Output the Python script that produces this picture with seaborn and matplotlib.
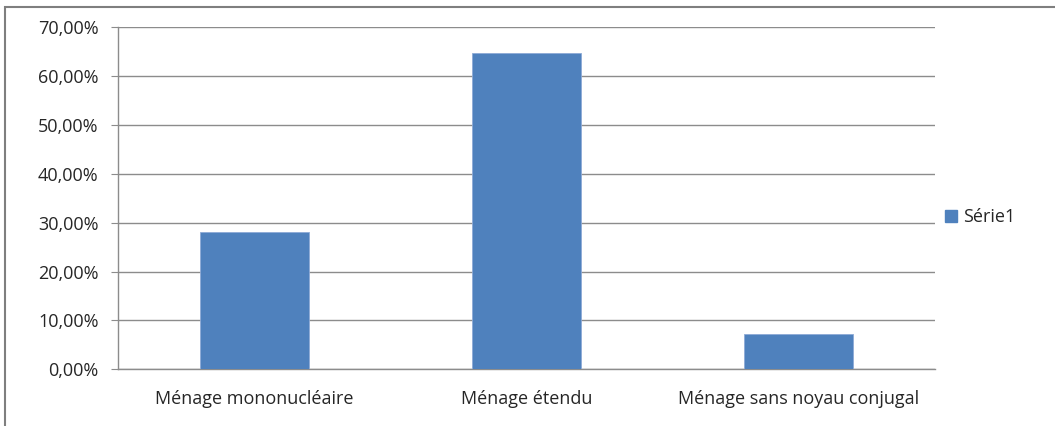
import matplotlib
matplotlib.use("Agg")
import matplotlib.pyplot as plt
import matplotlib.patches as mpatches
from matplotlib.ticker import FuncFormatter, FixedLocator
import pandas as pd
import seaborn as sns

# Données du graphique
categories = ["Ménage mononucléaire", "Ménage étendu", "Ménage sans noyau conjugal"]
valeurs = [28.1, 64.8, 7.2]  # en %
serie = "Série1"

df = pd.DataFrame({"categorie": categories, "valeur": valeurs})

sns.set_style("white")
plt.rcParams["font.family"] = ["Open Sans", "DejaVu Sans"]
FS = 13

fig = plt.figure(figsize=(10.55, 4.26), dpi=100)
ax = fig.add_axes([118 / 1055, 1 - 369.3 / 426, (935 - 118) / 1055, (369.3 - 27.3) / 426])

sns.barplot(data=df, x="categorie", y="valeur", color="#4F81BD",
            width=0.4, saturation=1, ax=ax, edgecolor="#8EAAD6", linewidth=0.6,
            zorder=3)

ax.set_ylim(0, 70)
ax.set_xlim(-0.5, 2.5)
ax.set_yticks(range(0, 71, 10))
ax.yaxis.set_major_formatter(FuncFormatter(lambda v, p: f"{v:.2f}%".replace(".", ",")))
ax.grid(axis="y", color="#8C8C8C", linewidth=1, zorder=0)
ax.set_axisbelow(True)

for s in ["top", "right"]:
    ax.spines[s].set_visible(False)
for s in ["left", "bottom"]:
    ax.spines[s].set_color("#8C8C8C")
    ax.spines[s].set_linewidth(1)

ax.xaxis.set_minor_locator(FixedLocator([-0.5, 0.5, 1.5, 2.5]))
ax.tick_params(axis="x", which="major", length=0, pad=15, labelsize=FS, labelcolor="#262626")
ax.tick_params(axis="x", which="minor", length=5, color="#8C8C8C", direction="out")
ax.tick_params(axis="y", length=5, color="#8C8C8C", direction="out", left=True,
               labelsize=FS, labelcolor="#262626", pad=9)
ax.set_xlabel("")
ax.set_ylabel("")

handle = mpatches.Patch(color="#4F81BD", label=serie)
fig.legend(handles=[handle], loc="center left", bbox_to_anchor=(0.88, 0.49),
           frameon=False, fontsize=FS, handlelength=0.7, handleheight=0.7,
           handletextpad=0.3)

# cadre extérieur du graphique
fig.patches.append(mpatches.Rectangle((5 / 1055, -0.05), 1.1, 1 - 7 / 426 + 0.05,
                                      transform=fig.transFigure, fill=False,
                                      edgecolor="#7F7F7F", linewidth=1.5))

fig.savefig("out.png", dpi=100)
